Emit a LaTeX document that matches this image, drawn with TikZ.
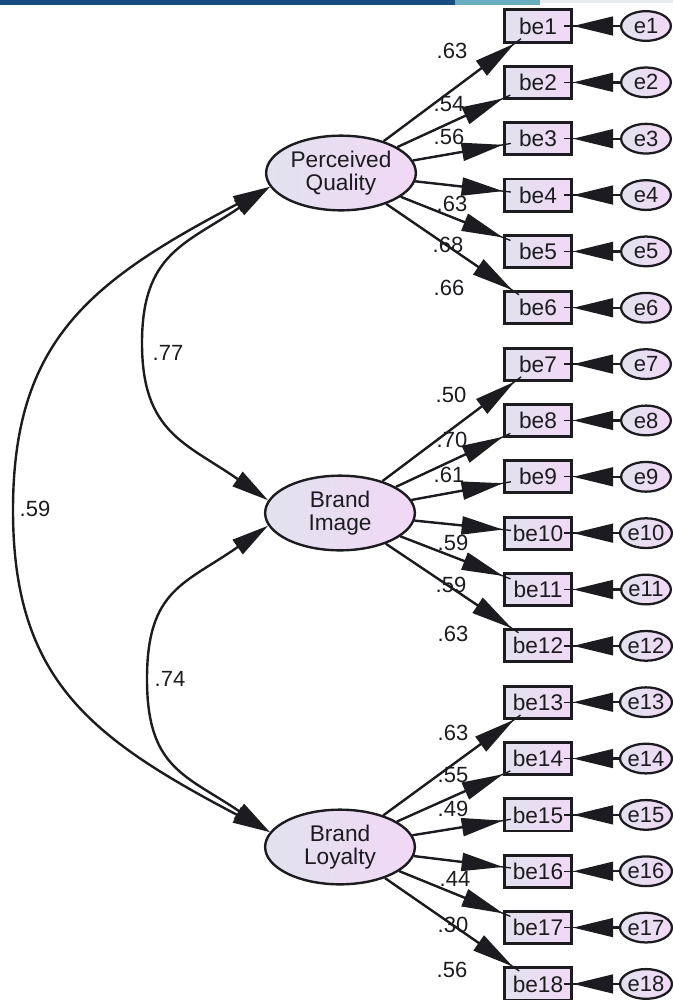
\documentclass[tikz,border=0pt]{standalone}
\usepackage{fontspec}
\setmainfont{Liberation Sans}
\usetikzlibrary{arrows.meta,shapes.geometric,calc}
\definecolor{fillL}{RGB}{226,226,238}
\definecolor{fillR}{RGB}{241,216,246}
\definecolor{ink}{RGB}{28,28,32}
\definecolor{bannerblue}{RGB}{24,76,124}
\definecolor{bannerteal}{RGB}{104,172,190}
\definecolor{bannerlight}{RGB}{230,234,236}
\begin{document}
\begin{tikzpicture}[x=0.75pt,y=-0.75pt,
  every node/.style={text=ink},
  obs/.style={draw=ink, line width=2.2pt, rectangle, minimum width=50.3pt,
    minimum height=24.1pt, inner sep=0pt, left color=fillL, right color=fillR,
    font=\fontsize{17}{18}\selectfont},
  errv/.style={draw=ink, line width=1.7pt, ellipse, minimum width=37.3pt,
    minimum height=22.3pt, inner sep=0pt, left color=fillL, right color=fillR,
    font=\fontsize{16.5}{18}\selectfont},
  lat/.style={draw=ink, line width=1.8pt, ellipse, minimum width=112.3pt,
    minimum height=56pt, inner sep=0pt, left color=fillL, right color=fillR,
    align=center, font=\fontsize{17}{17.5}\selectfont},
  lab/.style={inner sep=0pt, font=\fontsize{16.5}{18}\selectfont},
  conn/.style={draw=ink, line width=1.8pt},
  tick/.style={draw=ink, line width=1pt},
  arr/.style={conn, -{Triangle[length=31pt,width=13.5pt]}},
  earr/.style={conn, -{Triangle[length=30pt,width=14pt]}},
  cov/.style={conn, {Triangle[length=28pt,width=13pt]}-{Triangle[length=28pt,width=13pt]}},
]
\useasboundingbox (0,0) rectangle (673,1000);
% banner strip at the top
\fill[bannerblue] (0,0) rectangle (455,4.5);
\fill[bannerteal] (455,0) rectangle (540,4.5);
\fill[bannerlight] (540,0) rectangle (673,3);

% latent variables
\node[lat] (PQ) at (341,173) {Perceived\\Quality};
\node[lat] (BI) at (340,513) {Brand\\Image};
\node[lat] (BL) at (340,847) {Brand\\Loyalty};

% indicators and errors
\foreach \i in {1,...,18} {
  \pgfmathsetmacro\yy{26+(\i-1)*56.35}
  \node[obs] (b\i) at (538,\yy) {be\i};
  \node[errv] (e\i) at (646,\yy) {e\i};
}

% error arrows
\foreach \i in {1,...,18} {
  \draw[tick, shorten >=-7pt] (e\i) -- (b\i);
  \draw[earr] (e\i) -- (b\i);
}

% loadings
\foreach \i in {1,...,6} {
  \draw[tick, shorten >=-6pt] (PQ) -- (b\i);
  \draw[arr] (PQ) -- (b\i);
}
\foreach \i in {7,...,12} {
  \draw[tick, shorten >=-6pt] (BI) -- (b\i);
  \draw[arr] (BI) -- (b\i);
}
\foreach \i in {13,...,18} {
  \draw[tick, shorten >=-6pt] (BL) -- (b\i);
  \draw[arr] (BL) -- (b\i);
}

% loading labels
\node[lab] (l1) at (452,51) {.63};
\node[lab] (l2) at (449,104) {.54};
\node[lab] (l3) at (449,137) {.56};
\node[lab] (l4) at (452,204) {.63};
\node[lab] (l5) at (448,245) {.68};
\node[lab] (l6) at (449,288) {.66};
\node[lab] (l7) at (451,395) {.50};
\node[lab] (l8) at (452,440) {.70};
\node[lab] (l9) at (449,475) {.61};
\node[lab] (l10) at (453,543) {.59};
\node[lab] (l11) at (451,585) {.59};
\node[lab] (l12) at (453,634) {.63};
\node[lab] (l13) at (453,733) {.63};
\node[lab] (l14) at (453,775) {.55};
\node[lab] (l15) at (453,809) {.49};
\node[lab] (l16) at (455,879) {.44};
\node[lab] (l17) at (453,925) {.30};
\node[lab] (l18) at (452,970) {.56};

% covariances
\draw[cov] (PQ.191) .. controls (186,244) and (142,253) .. (142,343)
  .. controls (142,433) and (186,443) .. (BI.170);
\draw[cov] (BI.190) .. controls (185,584) and (147,589) .. (147,679)
  .. controls (147,769) and (186,775) .. (BL.168);
\draw[cov] (PQ.191) .. controls (91,281) and (13,340) .. (13,510)
  .. controls (13,680) and (91,738) .. (BL.168);

\node[lab] (c1) at (168,353) {.77};
\node[lab] (c2) at (35,509) {.59};
\node[lab] (c3) at (170,679) {.74};
\end{tikzpicture}
\end{document}
